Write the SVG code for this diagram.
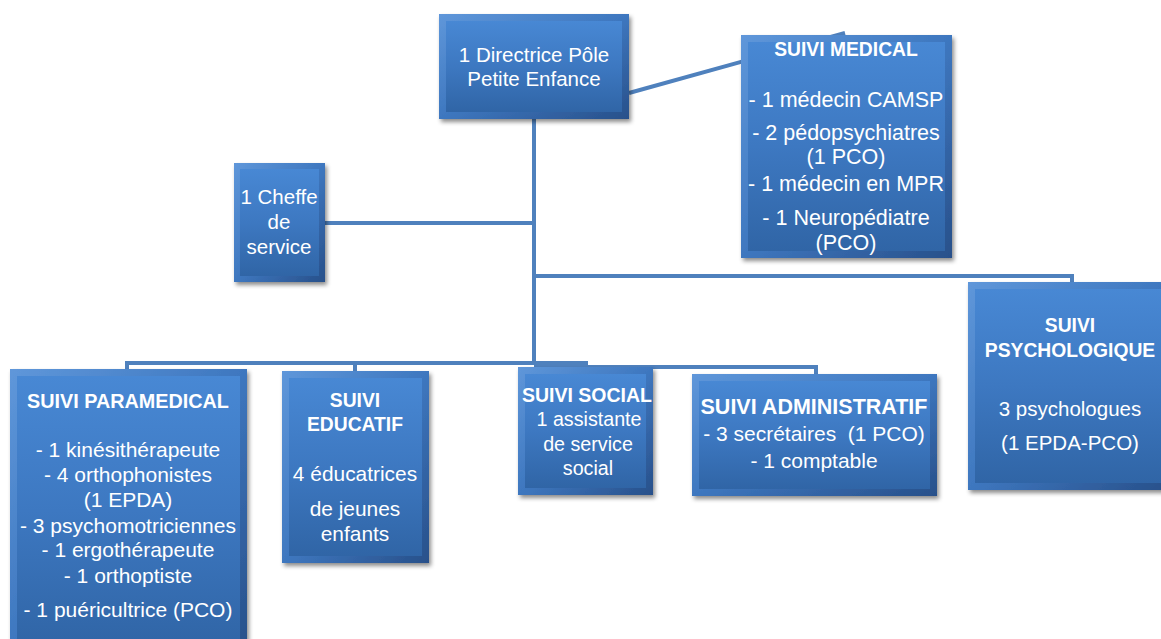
<svg xmlns="http://www.w3.org/2000/svg" width="1161" height="639" viewBox="0 0 1161 639">
<defs>
<linearGradient id="bev" x1="0" y1="0" x2="1" y2="1">
<stop offset="0" stop-color="#5f97da"/>
<stop offset="0.5" stop-color="#3e77bf"/>
<stop offset="1" stop-color="#28508a"/>
</linearGradient>
<linearGradient id="face" x1="0" y1="0" x2="0" y2="1">
<stop offset="0" stop-color="#4888d4"/>
<stop offset="0.5" stop-color="#3d78c1"/>
<stop offset="1" stop-color="#3065a6"/>
</linearGradient>
<filter id="sh" x="-10%" y="-10%" width="130%" height="130%">
<feDropShadow dx="2" dy="3" stdDeviation="2" flood-color="#000" flood-opacity="0.45"/>
</filter>
</defs>
<style>
.conn{stroke:#4f81bd;stroke-width:4;fill:none}
.outer{fill:url(#bev);filter:url(#sh)}
.inner{fill:url(#face)}
text{font-family:"Liberation Sans",Arial,sans-serif;fill:#ffffff;text-anchor:middle;font-size:20.5px}
.b{font-weight:bold;font-size:19.3px}
</style>
<rect width="1161" height="639" fill="#ffffff"/>
<g id="connectors">
<path class="conn" d="M629,93 L845,33"/>
<path class="conn" d="M534,119 V363"/>
<path class="conn" d="M325,223 H534"/>
<path class="conn" d="M534,276 H1072 V283"/>
<path class="conn" d="M534,363 H127 V370"/>
<path class="conn" d="M355,363 V372"/>
<path class="conn" d="M534,363 H586 V368"/>
<path class="conn" d="M534,367 H816 V375"/>
</g>
<g id="directrice">
<rect class="outer" x="439" y="14" width="190" height="105"/>
<rect class="inner" x="446" y="21" width="176" height="91"/>
<text x="534" y="62">1 Directrice Pôle</text>
<text x="534" y="86">Petite Enfance</text>
</g>
<g id="medical">
<rect class="outer" x="741" y="35" width="211" height="223"/>
<rect class="inner" x="748" y="42" width="197" height="209"/>
<text class="b" x="846" y="56">SUIVI MEDICAL</text>
<text x="846" y="107" style="font-size:21.5px">- 1 médecin CAMSP</text>
<text x="846" y="140" style="font-size:21.5px">- 2 pédopsychiatres</text>
<text x="846" y="164" style="font-size:21.5px">(1 PCO)</text>
<text x="846" y="191" style="font-size:21.5px">- 1 médecin en MPR</text>
<text x="846" y="225" style="font-size:21.5px">- 1 Neuropédiatre</text>
<text x="846" y="250" style="font-size:21.5px">(PCO)</text>
</g>
<g id="cheffe">
<rect class="outer" x="234" y="163" width="91" height="119"/>
<rect class="inner" x="240" y="169" width="79" height="107"/>
<text x="279" y="204">1 Cheffe</text>
<text x="279" y="229">de</text>
<text x="279" y="254">service</text>
</g>
<g id="paramedical">
<rect class="outer" x="10" y="369" width="237" height="280"/>
<rect class="inner" x="17" y="376" width="223" height="270"/>
<text class="b" x="128" y="408" style="font-size:19.8px">SUIVI PARAMEDICAL</text>
<text x="128" y="457" style="font-size:21px">- 1 kinésithérapeute</text>
<text x="128" y="482" style="font-size:21px">- 4 orthophonistes</text>
<text x="128" y="507" style="font-size:21px">(1 EPDA)</text>
<text x="128" y="533" style="font-size:21px">- 3 psychomotriciennes</text>
<text x="128" y="557" style="font-size:21px">- 1 ergothérapeute</text>
<text x="128" y="583" style="font-size:21px">- 1 orthoptiste</text>
<text x="128" y="617" style="font-size:21px">- 1 puéricultrice (PCO)</text>
</g>
<g id="educatif">
<rect class="outer" x="282" y="371" width="147" height="192"/>
<rect class="inner" x="289" y="378" width="133" height="178"/>
<text class="b" x="355" y="407">SUIVI</text>
<text class="b" x="355" y="431">EDUCATIF</text>
<text x="355" y="481" style="font-size:20.9px">4 éducatrices</text>
<text x="355" y="516" style="font-size:20.9px">de jeunes</text>
<text x="355" y="541" style="font-size:20.9px">enfants</text>
</g>
<g id="social">
<rect class="outer" x="518" y="367" width="135" height="128"/>
<rect class="inner" x="525" y="374" width="121" height="114"/>
<text class="b" x="587" y="402" style="font-size:19.5px">SUIVI SOCIAL</text>
<text x="589" y="426" style="font-size:19.7px">1 assistante</text>
<text x="588" y="451" style="font-size:19.7px">de service</text>
<text x="588" y="475" style="font-size:19.7px">social</text>
</g>
<g id="administratif">
<rect class="outer" x="692" y="374" width="245" height="122"/>
<rect class="inner" x="699" y="381" width="231" height="108"/>
<text class="b" x="814" y="414" style="font-size:21.5px">SUIVI ADMINISTRATIF</text>
<text x="814" y="441" style="font-size:21px">- 3 secrétaires&#160; (1 PCO)</text>
<text x="814" y="468" style="font-size:21px">- 1 comptable</text>
</g>
<g id="psychologique">
<rect class="outer" x="968" y="282" width="200" height="208"/>
<rect class="inner" x="975" y="289" width="186" height="194"/>
<text class="b" x="1070" y="332">SUIVI</text>
<text class="b" x="1070" y="357">PSYCHOLOGIQUE</text>
<text x="1070" y="416">3 psychologues</text>
<text x="1070" y="450">(1 EPDA-PCO)</text>
</g>
</svg>
